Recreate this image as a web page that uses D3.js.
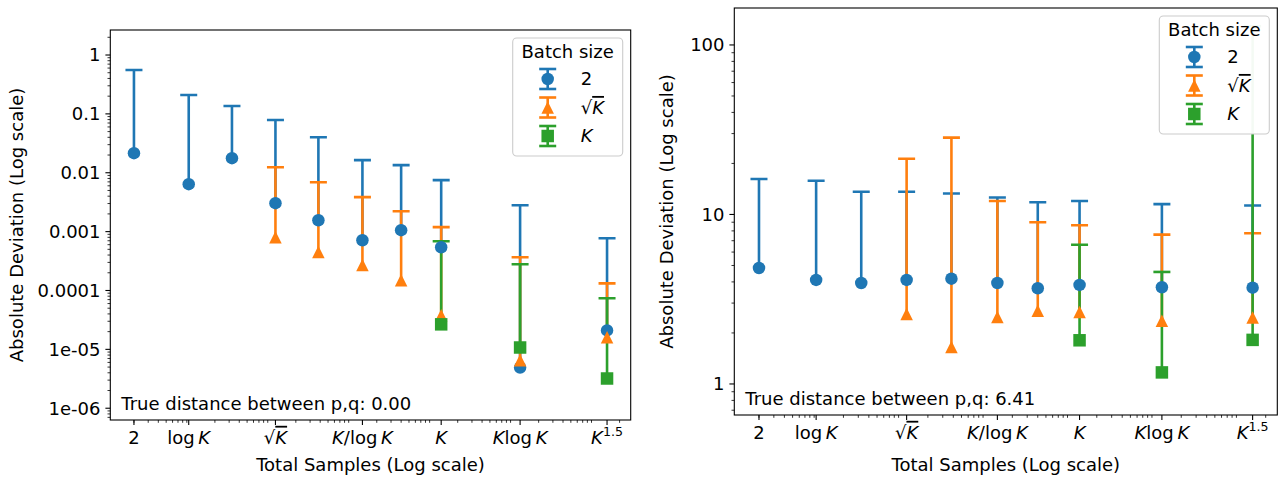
<!DOCTYPE html>
<html>
<head>
<meta charset="utf-8">
<script src="https://cdn.jsdelivr.net/npm/d3@7"></script>
<style>
  body { margin: 0; background: #fff; }
  text { font-family: 'DejaVu Sans', sans-serif; fill: #000; }
</style>
</head>
<body>
<svg id="chart" width="1284" height="481"></svg>
<script>
// total samples at each measured point (K ~ 12500); unlabelled points sit between the named ones
const samples = [2, 9.5, 32.5, 112, 380, 1330, 4000, 12500, 118000, 1400000];
const xTickIndex = [0, 1, 3, 5, 7, 8, 9];
const xTickLabels = ['2', 'log K', '√K', 'K/log K', 'K', 'Klog K', 'K^1.5'];

const batchNames = ['2', '√K', 'K'];
const batchColors = ['#1f77b4', '#ff7f0e', '#2ca02c'];
const batchStart = [0, 3, 7]; // first sample index where each batch size is possible

// left: p = q (true distance 0.00)
const leftBatch2 = [0.0215, 0.0064, 0.0177, 0.00304, 0.00156, 0.000714, 0.00106, 0.000543, 4.9e-6, 2.1e-5];
const leftBatch2Upper = [0.556, 0.209, 0.136, 0.0785, 0.040, 0.0164, 0.0135, 0.0075, 0.0028, 0.00077];
const leftBatchSqrt = [0.0008, 0.00045, 0.00027, 0.000149, 3.8e-5, 6.5e-6, 1.6e-5];
const leftBatchSqrtUpper = [0.0124, 0.0069, 0.00385, 0.00222, 0.00119, 0.000367, 0.000132];
const leftBatchK = [2.66e-5, 1.08e-5, 3.2e-6];
const leftBatchKUpper = [0.000687, 0.000279, 7.4e-5];
const leftYTicks = [1, 0.1, 0.01, 0.001, 0.0001, 1e-5, 1e-6];
const leftYTickLabels = ['1', '0.1', '0.01', '0.001', '0.0001', '1e-05', '1e-06'];

// right: true distance 6.41
const rightBatch2 = [4.83, 4.11, 3.94, 4.11, 4.18, 3.94, 3.67, 3.84, 3.72, 3.70];
const rightBatch2Upper = [16.2, 15.8, 13.6, 13.6, 13.3, 12.6, 11.8, 12.0, 11.5, 11.3];
const rightBatchSqrt = [2.59, 1.65, 2.48, 2.70, 2.66, 2.36, 2.47];
const rightBatchSqrtUpper = [21.3, 28.4, 12.0, 9.0, 8.63, 7.6, 7.75];
const rightBatchK = [1.81, 1.17, 1.82];
const rightBatchKUpper = [6.63, 4.58, 129];
const rightYTicks = [1, 10, 100];
const rightYTickLabels = ['1', '10', '100'];

const trueDistances = ['0.00', '6.41'];

const panels = [
  {
    box: { left: 110.3, right: 630.7, top: 30, bottom: 420 },
    yDomain: [6.31e-7, 2.66],
    values: [leftBatch2, leftBatchSqrt, leftBatchK],
    uppers: [leftBatch2Upper, leftBatchSqrtUpper, leftBatchKUpper],
    yTicks: leftYTicks, yTickLabels: leftYTickLabels,
    yLabelX: 23, distance: trueDistances[0]
  },
  {
    box: { left: 734.3, right: 1277.3, top: 8, bottom: 415 },
    yDomain: [0.656, 165.2],
    values: [rightBatch2, rightBatchSqrt, rightBatchK],
    uppers: [rightBatch2Upper, rightBatchSqrtUpper, rightBatchKUpper],
    yTicks: rightYTicks, yTickLabels: rightYTickLabels,
    yLabelX: 673, distance: trueDistances[1]
  }
];

const svg = d3.select('#chart');
const FS = 18;       // 13pt at 100 dpi
const TICK = 4.9;    // 3.5pt
const MINOR = 2.8;
const CAP = 8.5;
const LW = 2.6;
const MS = 12.5;

// turn 'K/log K' style strings into mathtext-like pieces
function mathParts(s) {
  const parts = [];
  let buf = '', over = false;
  const flush = () => { if (buf) { parts.push({ t: buf }); buf = ''; } };
  for (let i = 0; i < s.length; i++) {
    const c = s[i];
    if (c === 'K') { flush(); parts.push({ t: 'K', it: true, over }); over = false; }
    else if (c === '√') { flush(); parts.push({ t: '√' }); over = true; }
    else if (c === '^') { flush(); parts.push({ t: s.slice(i + 1), sup: true }); break; }
    else if (c === ' ') { flush(); parts.push({ t: '\u2009' }); }
    else buf += c;
  }
  flush();
  return parts;
}

function mathText(g, s, x, y, anchor) {
  const t = g.append('text').attr('x', x).attr('y', y).attr('text-anchor', anchor).attr('font-size', FS);
  mathParts(s).forEach((p) => {
    const ts = t.append('tspan').text(p.t);
    if (p.it) ts.attr('font-style', 'italic');
    if (p.over) ts.style('text-decoration', 'overline');
    if (p.sup) ts.attr('font-size', FS * 0.7).attr('dy', -FS * 0.42);
  });
  return t;
}

function markerPath(k) {
  const h = MS / 2;
  if (k === 0) return d3.symbol(d3.symbolCircle, Math.PI * h * h)();
  if (k === 1) return `M0,${-h}L${h},${h}L${-h},${h}Z`;
  return `M${-h},${-h}H${h}V${h}H${-h}Z`;
}

panels.forEach((p, pi) => {
  const b = p.box;
  const lo = Math.log10(samples[0]);
  const hi = Math.log10(samples[samples.length - 1]);
  const pad = 0.05 * (hi - lo);
  const x = d3.scaleLog().domain([10 ** (lo - pad), 10 ** (hi + pad)]).range([b.left, b.right]);
  const y = d3.scaleLog().domain(p.yDomain).range([b.bottom, b.top]);

  const g = svg.append('g');
  const clipId = 'clip' + pi;
  g.append('clipPath').attr('id', clipId)
    .append('rect').attr('x', b.left).attr('y', b.top).attr('width', b.right - b.left).attr('height', b.bottom - b.top);
  const plot = g.append('g').attr('clip-path', `url(#${clipId})`);

  // error bars: only the upper side shows, lower bound sits at the point
  p.values.forEach((vals, k) => {
    vals.forEach((v, i) => {
      const cx = x(samples[batchStart[k] + i]);
      const up = y(p.uppers[k][i]);
      plot.append('line').attr('x1', cx).attr('x2', cx).attr('y1', y(v)).attr('y2', up)
        .attr('stroke', batchColors[k]).attr('stroke-width', LW);
      plot.append('line').attr('x1', cx - CAP).attr('x2', cx + CAP).attr('y1', up).attr('y2', up)
        .attr('stroke', batchColors[k]).attr('stroke-width', LW);
    });
  });
  p.values.forEach((vals, k) => {
    vals.forEach((v, i) => {
      plot.append('path').attr('d', markerPath(k))
        .attr('transform', `translate(${x(samples[batchStart[k] + i])},${y(v)})`)
        .attr('fill', batchColors[k]);
    });
  });

  // spines
  g.append('rect').attr('x', b.left).attr('y', b.top).attr('width', b.right - b.left).attr('height', b.bottom - b.top)
    .attr('fill', 'none').attr('stroke', '#000').attr('stroke-width', 1.1);

  // x ticks
  const [x0, x1] = x.domain();
  const xMinor = [];
  for (let e = Math.floor(Math.log10(x0)); e <= Math.ceil(Math.log10(x1)); e++) {
    for (let m = 2; m <= 9; m++) { const v = m * 10 ** e; if (v >= x0 && v <= x1) xMinor.push(v); }
  }
  xMinor.forEach((v) => g.append('line').attr('x1', x(v)).attr('x2', x(v)).attr('y1', b.bottom).attr('y2', b.bottom + MINOR)
    .attr('stroke', '#000').attr('stroke-width', 0.8));
  xTickIndex.forEach((idx, j) => {
    const px = x(samples[idx]);
    g.append('line').attr('x1', px).attr('x2', px).attr('y1', b.bottom).attr('y2', b.bottom + TICK)
      .attr('stroke', '#000').attr('stroke-width', 1.1);
    mathText(g, xTickLabels[j], px, b.bottom + TICK + 4.9 + 14, 'middle');
  });

  // y ticks
  const [y0, y1] = y.domain();
  for (let e = Math.floor(Math.log10(y0)); e <= Math.ceil(Math.log10(y1)); e++) {
    for (let m = 2; m <= 9; m++) {
      const v = m * 10 ** e;
      if (v >= y0 && v <= y1) g.append('line').attr('x1', b.left - MINOR).attr('x2', b.left).attr('y1', y(v)).attr('y2', y(v))
        .attr('stroke', '#000').attr('stroke-width', 0.8);
    }
  }
  p.yTicks.forEach((v, j) => {
    g.append('line').attr('x1', b.left - TICK).attr('x2', b.left).attr('y1', y(v)).attr('y2', y(v))
      .attr('stroke', '#000').attr('stroke-width', 1.1);
    g.append('text').attr('x', b.left - TICK - 4.9).attr('y', y(v)).attr('dy', '0.36em')
      .attr('text-anchor', 'end').attr('font-size', FS).text(p.yTickLabels[j]);
  });

  // axis labels
  g.append('text').attr('x', (b.left + b.right) / 2).attr('y', 471).attr('text-anchor', 'middle')
    .attr('font-size', FS).text('Total Samples (Log scale)');
  g.append('text').attr('transform', `translate(${p.yLabelX},${(b.top + b.bottom) / 2}) rotate(-90)`)
    .attr('text-anchor', 'middle').attr('font-size', FS).text('Absolute Deviation (Log scale)');

  g.append('text').attr('x', b.left + 11).attr('y', b.bottom - 10).attr('font-size', FS)
    .text('True distance between p,q: ' + p.distance);

  // legend, upper right
  const lw = 110, lh = 118;
  const lx = b.right - 8 - lw, ly = b.top + 8;
  const leg = g.append('g');
  leg.append('rect').attr('x', lx).attr('y', ly).attr('width', lw).attr('height', lh).attr('rx', 4)
    .attr('fill', '#fff').attr('fill-opacity', 0.95).attr('stroke', '#ccc').attr('stroke-width', 1.1);
  leg.append('text').attr('x', lx + lw / 2).attr('y', ly + 14).attr('dy', '0.36em').attr('text-anchor', 'middle')
    .attr('font-size', FS).text('Batch size');
  batchNames.forEach((name, k) => {
    const cy = ly + 41 + k * 28.5;
    const hx = lx + 35;
    leg.append('line').attr('x1', hx).attr('x2', hx).attr('y1', cy - 10).attr('y2', cy + 10)
      .attr('stroke', batchColors[k]).attr('stroke-width', LW);
    [cy - 10, cy + 10].forEach((yy) => leg.append('line').attr('x1', hx - CAP).attr('x2', hx + CAP).attr('y1', yy).attr('y2', yy)
      .attr('stroke', batchColors[k]).attr('stroke-width', LW));
    leg.append('path').attr('d', markerPath(k)).attr('transform', `translate(${hx},${cy})`).attr('fill', batchColors[k]);
    mathText(leg, name, lx + 68, cy, 'start').attr('dy', '0.36em');
  });
});
</script>
</body>
</html>
